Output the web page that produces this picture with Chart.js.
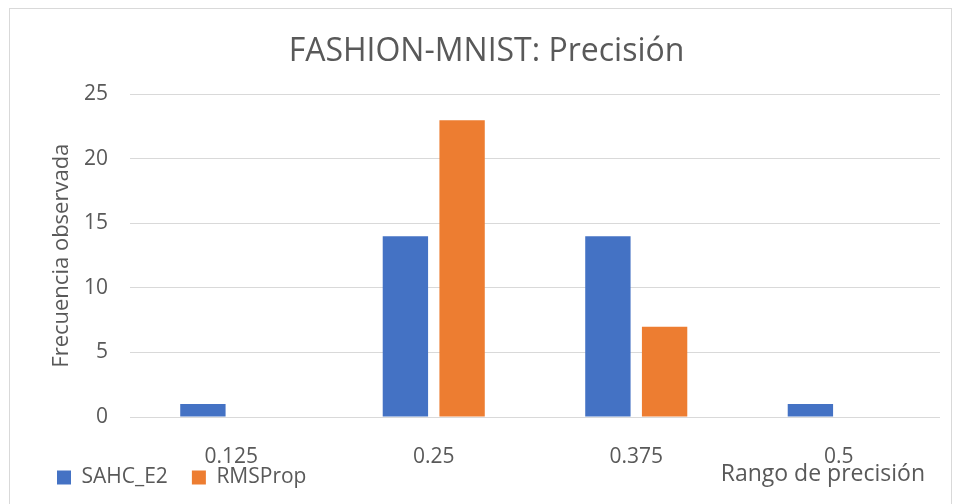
<!DOCTYPE html>
<html>
<head>
<meta charset="utf-8">
<script src="https://cdn.jsdelivr.net/npm/chart.js@4"></script>
<style>
  html, body { margin: 0; padding: 0; background: #fff; }
  #wrap { position: relative; width: 957px; height: 504px; overflow: hidden; }
  #frame { position: absolute; left: 9px; top: 8px; width: 941px; height: 520px; border: 1px solid #d9d9d9; pointer-events: none; }
</style>
</head>
<body>
<div id="wrap">
  <canvas id="chart1" width="957" height="504"></canvas>
  <div id="frame"></div>
</div>
<script>
// datos del gráfico
const categorias = ['0.125', '0.25', '0.375', '0.5'];
const sahcE2 = [1, 14, 14, 1];
const rmsProp = [0, 23, 7, 0];
const tituloX = 'Rango de precisión';

const textColor = '#595959';
const fontFamily = "'Open Sans', sans-serif";

// título del eje X a la derecha, en la misma línea que la leyenda;
// además sube la leyenda para que quede a la altura del título
const xTitlePlugin = {
    id: 'xTitle',
    afterLayout(chart) {
        chart.legend.top -= 20;
        chart.legend.bottom -= 20;
    },
    afterDraw(chart) {
        const ctx = chart.ctx;
        ctx.save();
        ctx.font = '23px ' + fontFamily;
        ctx.fillStyle = textColor;
        ctx.textAlign = 'right';
        ctx.textBaseline = 'middle';
        ctx.fillText(tituloX, chart.chartArea.right - 15, 474);
        ctx.restore();
    }
};

const ctx = document.getElementById('chart1').getContext('2d');
const chart1 = new Chart(ctx, {
    type: 'bar',
    data: {
        labels: categorias,
        datasets: [{
            label: 'SAHC_E2',
            data: sahcE2,
            backgroundColor: '#4472C4'
        }, {
            label: 'RMSProp',
            data: rmsProp,
            backgroundColor: '#ED7D31'
        }]
    },
    options: {
        responsive: false,
        animation: false,
        categoryPercentage: 0.56,
        barPercentage: 0.8,
        layout: {
            padding: { left: 33, right: 17, top: 0, bottom: -14 }
        },
        scales: {
            x: {
                grid: { display: false },
                border: { display: false },
                ticks: {
                    color: textColor,
                    font: { family: fontFamily, size: 21 },
                    padding: 19
                },
                afterFit: (scale) => { scale.height = 46; }
            },
            y: {
                min: 0,
                max: 25,
                ticks: {
                    stepSize: 5,
                    color: textColor,
                    font: { family: fontFamily, size: 21 },
                    padding: 22
                },
                grid: { color: '#d9d9d9', drawTicks: false },
                border: { display: false },
                title: {
                    display: true,
                    text: 'Frecuencia observada',
                    color: textColor,
                    font: { family: fontFamily, size: 22 },
                    padding: { top: 16, bottom: 0 }
                },
                afterFit: (scale) => { scale.width = 97; }
            }
        },
        plugins: {
            title: {
                display: true,
                text: 'FASHION-MNIST: Precisión',
                color: textColor,
                font: { family: fontFamily, size: 32, weight: 'normal' },
                padding: { top: 33, bottom: 23 }
            },
            legend: {
                position: 'bottom',
                align: 'start',
                labels: {
                    color: textColor,
                    font: { family: fontFamily, size: 21 },
                    boxWidth: 14,
                    boxHeight: 14,
                    padding: 24
                }
            },
            tooltip: { enabled: false }
        }
    },
    plugins: [xTitlePlugin]
});
</script>
</body>
</html>
